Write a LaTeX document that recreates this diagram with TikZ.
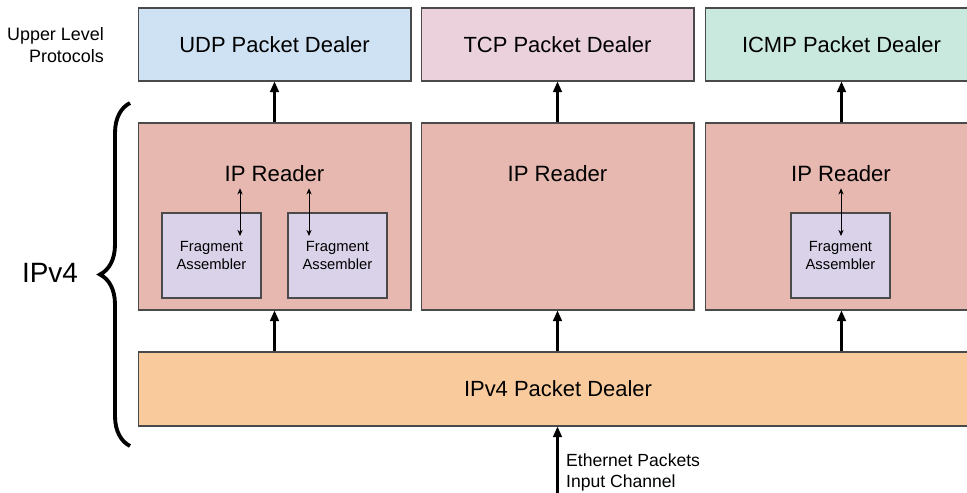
\documentclass[tikz,border=0pt]{standalone}
\usepackage{fontspec}
\setmainfont{Liberation Sans}
\usetikzlibrary{arrows.meta,decorations.pathreplacing}
\definecolor{udpblue}{HTML}{CFE2F3}
\definecolor{tcppink}{HTML}{EAD1DC}
\definecolor{icmpgreen}{HTML}{C9E8DE}
\definecolor{readerred}{HTML}{E6B8AF}
\definecolor{fragpurple}{HTML}{D9D2E9}
\definecolor{dealerorange}{HTML}{F9CB9C}
\definecolor{edge}{HTML}{4A4A4A}
\tikzset{
  block/.style={draw=edge, line width=0.6pt, rectangle, inner sep=0pt},
  dealer/.style={block, minimum width=5.46cm, minimum height=1.46cm, font=\fontsize{12.5}{14}\selectfont},
  reader/.style={block, fill=readerred, minimum width=5.46cm, minimum height=3.74cm},
  frag/.style={block, fill=fragpurple, minimum width=1.98cm, minimum height=1.7cm, align=center, font=\fontsize{8.4}{10.5}\selectfont},
  flow/.style={-{Triangle[length=6pt,width=5pt]}, line width=1.2pt},
  link/.style={{Stealth[length=3.5pt,width=3pt]}-{Stealth[length=3.5pt,width=3pt]}, line width=0.5pt}
}
\begin{document}
\begin{tikzpicture}[x=0.02cm, y=-0.02cm]
\useasboundingbox (0,0) rectangle (967,493);
% upper level protocols
\node[dealer, fill=udpblue] (udp) at (274.5,44.5) {UDP Packet Dealer};
\node[dealer, fill=tcppink] (tcp) at (557.5,44.5) {TCP Packet Dealer};
\node[dealer, fill=icmpgreen] (icmp) at (841.5,44.5) {ICMP Packet Dealer};
\node[align=right, anchor=east, font=\fontsize{10.2}{12.2}\selectfont] (upper) at (110,45) {Upper Level\\Protocols};

% ip readers
\node[reader] (ruld) at (274.5,216.5) {};
\node[reader] (rtcp) at (557.5,216.5) {};
\node[reader] (ricmp) at (841.5,216.5) {};
\foreach \r/\x in {ruld/274.5, rtcp/557.5, ricmp/841}
  \node[font=\fontsize{12.6}{14}\selectfont] (\r-label) at (\x,174) {IP Reader};

% fragment assemblers
\node[frag] (fragA) at (211.5,255.5) {Fragment\\Assembler};
\node[frag] (fragB) at (337.5,255.5) {Fragment\\Assembler};
\node[frag] (fragC) at (840.5,255.5) {Fragment\\Assembler};
\coordinate (inA) at (240,236);
\coordinate (inB) at (309,236);
\coordinate (inC) at (841,236);
\draw[link] (ruld-label.south -| inA) -- (inA);
\draw[link] (ruld-label.south -| inB) -- (inB);
\draw[link] (ricmp-label.south -| inC) -- (inC);

% ipv4 packet dealer
\node[dealer, fill=dealerorange, minimum width=16.8cm, minimum height=1.48cm] (ipdealer) at (558,389) {IPv4 Packet Dealer};

% flows
\foreach \r/\p in {ruld/udp, rtcp/tcp, ricmp/icmp} {
  \draw[flow] (\r.north) -- (\p.south);
  \draw[flow] (ipdealer.north -| \r.south) -- (\r.south);
}
\coordinate (ether) at (557.5,493);
\draw[flow] (ether) -- (ether |- ipdealer.south);
\node[anchor=west, align=left, font=\fontsize{10}{12}\selectfont] (etherlabel) at (560,472) {Ethernet Packets\\Input Channel};

% ipv4 brace
\draw[line width=2.2pt, decorate, decoration={brace, amplitude=0.6cm}] (130,446) -- (130,103);
\node[font=\fontsize{15.9}{18}\selectfont] (ipv4) at (50,273) {IPv4};
\end{tikzpicture}
\end{document}
